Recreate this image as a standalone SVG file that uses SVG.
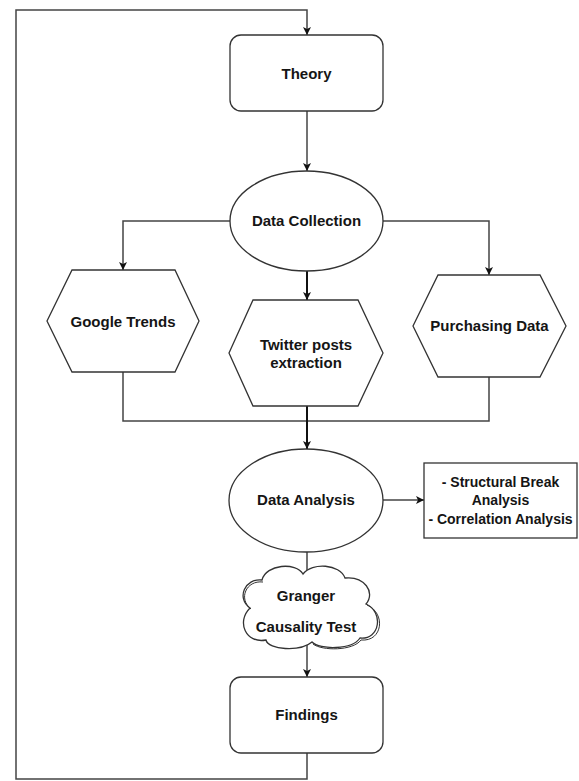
<svg xmlns="http://www.w3.org/2000/svg" width="579" height="781" viewBox="0 0 579 781">
<defs>
<marker id="arr" viewBox="0 0 10 10" refX="10" refY="5" markerWidth="8" markerHeight="8" markerUnits="userSpaceOnUse" orient="auto">
<path d="M0,0 L10,5 L0,10 L2.5,5 Z" fill="#111"/>
</marker>
<style>
.shape{fill:#fff;stroke:#333;stroke-width:1.3}
.conn{fill:none;stroke:#444;stroke-width:1.5}
.lbl{font-family:"Liberation Sans",Arial,sans-serif;font-size:15px;font-weight:bold;fill:#151515;text-anchor:middle}
.small{font-size:14px}
</style>
</defs>
<rect width="579" height="781" fill="#fff"/>
<g id="connectors">
<polyline class="conn" points="307,753 307,779 16,779 16,10 307,10 307,35" marker-end="url(#arr)"/>
<line class="conn" x1="307" y1="111" x2="307" y2="171" marker-end="url(#arr)"/>
<polyline class="conn" points="230,221 123,221 123,270" marker-end="url(#arr)"/>
<polyline class="conn" points="383,221 489,221 489,275" marker-end="url(#arr)"/>
<line class="conn" x1="307" y1="271" x2="307" y2="300" marker-end="url(#arr)" style="stroke:#111;stroke-width:2"/>
<polyline class="conn" points="123,372 123,421 307,421"/>
<polyline class="conn" points="489,377 489,421 307,421"/>
<line class="conn" x1="307" y1="406" x2="307" y2="449" marker-end="url(#arr)" style="stroke:#111;stroke-width:2"/>
<line class="conn" x1="383" y1="500" x2="424" y2="500" marker-end="url(#arr)"/>
<line class="conn" x1="307" y1="552" x2="307" y2="570"/>
<line class="conn" x1="307" y1="645" x2="307" y2="677" marker-end="url(#arr)"/>
</g>
<g id="theory">
<rect class="shape" x="230" y="35" width="153" height="76" rx="11"/>
<text class="lbl" x="306.5" y="79">Theory</text>
</g>
<g id="data-collection">
<ellipse class="shape" cx="306.5" cy="221" rx="76.5" ry="50"/>
<text class="lbl" x="306.5" y="226">Data Collection</text>
</g>
<g id="google-trends">
<polygon class="shape" points="47,321 72,270 175,270 199,321 175,372 72,372"/>
<text class="lbl" x="123" y="327">Google Trends</text>
</g>
<g id="twitter">
<polygon class="shape" points="229,353 253,300 358,300 383,353 358,406 253,406"/>
<text class="lbl" x="306" y="350">Twitter posts</text>
<text class="lbl" x="306" y="368">extraction</text>
</g>
<g id="purchasing">
<polygon class="shape" points="413,326 438,275 540,275 566,326 540,377 438,377"/>
<text class="lbl" x="489.5" y="331">Purchasing Data</text>
</g>
<g id="data-analysis">
<ellipse class="shape" cx="306" cy="500.5" rx="77" ry="51.5"/>
<text class="lbl" x="306" y="505">Data Analysis</text>
</g>
<g id="analysis-list">
<rect class="shape" x="424" y="463" width="153" height="75"/>
<text class="lbl small" x="500.5" y="487">- Structural Break</text>
<text class="lbl small" x="500.5" y="505">Analysis</text>
<text class="lbl small" x="500.5" y="524">- Correlation Analysis</text>
</g>
<g id="granger">
<path class="shape" d="M250,608 C236,598 245,578 262,580 C266,564 296,562 303,574 C312,562 340,564 345,578 C364,576 376,592 366,604 C384,612 380,640 360,638 C352,650 320,650 312,642 C300,652 268,650 266,640 C246,644 236,622 250,608 Z"/>
<path d="M367,605 C386,613 383,642 361,640 C353,651 322,651 313,644" fill="none" stroke="#333" stroke-width="1"/>
<path d="M251,609 C238,599 246,580 263,582" fill="none" stroke="#333" stroke-width="1"/>
<text class="lbl" x="306" y="601">Granger</text>
<text class="lbl" x="306" y="632">Causality Test</text>
</g>
<g id="findings">
<rect class="shape" x="230" y="677" width="153" height="76" rx="11"/>
<text class="lbl" x="306.5" y="720">Findings</text>
</g>
</svg>
